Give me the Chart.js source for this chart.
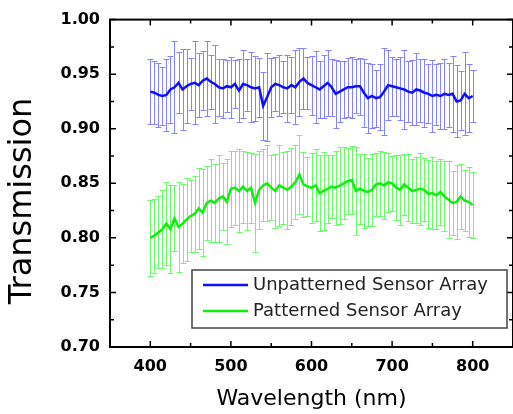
<!DOCTYPE html>
<html>
<head>
<meta charset="utf-8">
<script src="https://cdn.jsdelivr.net/npm/chart.js@4.4.0/dist/chart.umd.min.js"></script>
<style>
  html, body { margin: 0; padding: 0; background: #fff; overflow: hidden; }
  #wrap { width: 516px; height: 414px; }
</style>
</head>
<body>
<div id="wrap"><canvas id="transChart" width="516" height="414"></canvas></div>
<script>
// wavelength in nm
const wavelengths = [
  400, 405, 410, 415, 420, 425, 430, 435, 440, 445,
  450, 455, 460, 465, 470, 475, 480, 485, 490, 495,
  500, 505, 510, 515, 520, 525, 530, 535, 540, 545,
  550, 555, 560, 565, 570, 575, 580, 585, 590, 595,
  600, 605, 610, 615, 620, 625, 630, 635, 640, 645,
  650, 655, 660, 665, 670, 675, 680, 685, 690, 695,
  700, 705, 710, 715, 720, 725, 730, 735, 740, 745,
  750, 755, 760, 765, 770, 775, 780, 785, 790, 795,
  800
];

const unpatterned = [
  0.934, 0.933, 0.931, 0.930, 0.931, 0.936, 0.938, 0.942, 0.936, 0.939,
  0.941, 0.942, 0.940, 0.944, 0.946, 0.943, 0.941, 0.938, 0.937, 0.939,
  0.938, 0.941, 0.935, 0.941, 0.940, 0.938, 0.937, 0.938, 0.921, 0.929,
  0.938, 0.941, 0.940, 0.938, 0.937, 0.940, 0.938, 0.943, 0.946, 0.942,
  0.940, 0.938, 0.936, 0.939, 0.942, 0.938, 0.932, 0.934, 0.936, 0.938,
  0.938, 0.939, 0.939, 0.933, 0.928, 0.930, 0.928, 0.929, 0.934, 0.940,
  0.939, 0.938, 0.937, 0.936, 0.934, 0.933, 0.936, 0.935, 0.933, 0.932,
  0.930, 0.931, 0.930, 0.932, 0.931, 0.932, 0.925, 0.926, 0.932, 0.928,
  0.930
];
const unpatternedErr = [
  0.030, 0.029, 0.029, 0.027, 0.033, 0.031, 0.042, 0.028, 0.037, 0.034,
  0.024, 0.038, 0.029, 0.027, 0.034, 0.025, 0.036, 0.026, 0.027, 0.024,
  0.028, 0.022, 0.029, 0.031, 0.024, 0.032, 0.030, 0.027, 0.031, 0.040,
  0.027, 0.025, 0.028, 0.024, 0.031, 0.026, 0.034, 0.031, 0.028, 0.024,
  0.027, 0.033, 0.026, 0.029, 0.030, 0.026, 0.031, 0.028, 0.026, 0.027,
  0.028, 0.025, 0.026, 0.031, 0.032, 0.029, 0.026, 0.030, 0.040, 0.032,
  0.027, 0.026, 0.029, 0.036, 0.028, 0.030, 0.033, 0.029, 0.031, 0.027,
  0.033, 0.028, 0.030, 0.032, 0.029, 0.035, 0.033, 0.027, 0.038, 0.031,
  0.024
];

const patterned = [
  0.800, 0.802, 0.805, 0.808, 0.813, 0.808, 0.818, 0.810, 0.813, 0.817,
  0.820, 0.822, 0.827, 0.823, 0.832, 0.834, 0.832, 0.836, 0.838, 0.833,
  0.845, 0.846, 0.843, 0.847, 0.843, 0.846, 0.832, 0.844, 0.848, 0.850,
  0.846, 0.843, 0.848, 0.846, 0.844, 0.847, 0.851, 0.858, 0.849, 0.847,
  0.846, 0.848, 0.841, 0.843, 0.845, 0.847, 0.846, 0.848, 0.850, 0.852,
  0.853, 0.843, 0.845, 0.843, 0.842, 0.844, 0.849, 0.850, 0.848, 0.851,
  0.850, 0.846, 0.844, 0.849, 0.846, 0.843, 0.844, 0.845, 0.844, 0.840,
  0.841, 0.839, 0.842, 0.838, 0.835, 0.832, 0.833, 0.838, 0.834, 0.833,
  0.830
];
const patternedErr = [
  0.035, 0.034, 0.033, 0.036, 0.038, 0.040, 0.030, 0.041, 0.036, 0.038,
  0.033, 0.035, 0.037, 0.040, 0.034, 0.038, 0.036, 0.040, 0.031, 0.039,
  0.035, 0.034, 0.038, 0.033, 0.036, 0.032, 0.045, 0.036, 0.033, 0.035,
  0.030, 0.034, 0.037, 0.033, 0.036, 0.035, 0.034, 0.036, 0.030, 0.027,
  0.032, 0.033, 0.035, 0.036, 0.031, 0.029, 0.034, 0.035, 0.033, 0.030,
  0.031, 0.040, 0.032, 0.034, 0.031, 0.033, 0.029, 0.030, 0.031, 0.027,
  0.025, 0.030, 0.032, 0.028, 0.031, 0.029, 0.030, 0.033, 0.029, 0.031,
  0.033, 0.031, 0.030, 0.032, 0.035, 0.029, 0.034, 0.030, 0.028, 0.032,
  0.030
];

const xTicks = [400, 500, 600, 700, 800];
const xMinorTicks = [350, 450, 550, 650, 750, 850];
const yTicks = [0.70, 0.75, 0.80, 0.85, 0.90, 0.95, 1.00];
const yMinorTicks = [0.725, 0.775, 0.825, 0.875, 0.925, 0.975];

const toPoints = (ys) => wavelengths.map((x, i) => ({ x: x, y: ys[i] }));

// vertical error bars with caps, drawn under the lines
const errorBars = {
  id: "errorBars",
  beforeDatasetsDraw(chart) {
    const { ctx, chartArea, scales: { x, y } } = chart;
    ctx.save();
    ctx.beginPath();
    ctx.rect(chartArea.left, chartArea.top, chartArea.width, chartArea.height);
    ctx.clip();
    chart.data.datasets.forEach(ds => {
      ctx.strokeStyle = ds.errColor;
      ctx.lineWidth = 1;
      ds.data.forEach((p, i) => {
        const px = Math.round(x.getPixelForValue(p.x)) + 0.5;
        const top = Math.round(y.getPixelForValue(p.y + ds.err[i])) + 0.5;
        const bot = Math.round(y.getPixelForValue(p.y - ds.err[i])) + 0.5;
        ctx.beginPath();
        ctx.moveTo(px, top); ctx.lineTo(px, bot);
        ctx.moveTo(px - 3, top); ctx.lineTo(px + 3, top);
        ctx.moveTo(px - 3, bot); ctx.lineTo(px + 3, bot);
        ctx.stroke();
      });
    });
    ctx.restore();
  }
};

// closed frame with inward ticks on all four sides, the rotated y title and the boxed legend
const frameAndLegend = {
  id: "frameAndLegend",
  afterDraw(chart) {
    const { ctx, chartArea: a, scales: { x, y } } = chart;
    ctx.save();
    ctx.strokeStyle = "#000";
    ctx.lineWidth = 2;
    ctx.strokeRect(a.left, a.top, a.width, a.height);
    ctx.lineWidth = 1.5;
    ctx.beginPath();
    const tx = (v, len) => {
      const px = x.getPixelForValue(v);
      ctx.moveTo(px, a.bottom); ctx.lineTo(px, a.bottom - len);
      ctx.moveTo(px, a.top); ctx.lineTo(px, a.top + len);
    };
    const ty = (v, len) => {
      const py = y.getPixelForValue(v);
      ctx.moveTo(a.left, py); ctx.lineTo(a.left + len, py);
      ctx.moveTo(a.right, py); ctx.lineTo(a.right - len, py);
    };
    xTicks.forEach(v => tx(v, 6));
    xMinorTicks.forEach(v => tx(v, 4));
    yTicks.forEach(v => ty(v, 6));
    yMinorTicks.forEach(v => ty(v, 4));
    ctx.stroke();

    // y axis title
    ctx.save();
    ctx.translate(23, 201);
    ctx.rotate(-Math.PI / 2);
    ctx.font = "32px 'DejaVu Sans'";
    ctx.fillStyle = "#000";
    ctx.textAlign = "center";
    ctx.textBaseline = "middle";
    ctx.fillText("Transmission", 0, 0);
    ctx.restore();

    // legend box
    const bx = 192, by = 270, bw = 315, bh = 58;
    ctx.fillStyle = "#fff";
    ctx.fillRect(bx, by, bw, bh);
    ctx.strokeStyle = "#444";
    ctx.lineWidth = 1.5;
    ctx.strokeRect(bx, by, bw, bh);
    ctx.font = "18px 'DejaVu Sans'";
    ctx.textBaseline = "middle";
    ctx.textAlign = "left";
    chart.data.datasets.forEach((ds, i) => {
      const ly = by + 15 + i * 26;
      ctx.strokeStyle = ds.borderColor;
      ctx.lineWidth = 2.5;
      ctx.beginPath();
      ctx.moveTo(bx + 11, ly); ctx.lineTo(bx + 56, ly);
      ctx.stroke();
      ctx.fillStyle = "#222";
      ctx.fillText(ds.label, bx + 61, ly);
    });
    ctx.restore();
  }
};

new Chart(document.getElementById("transChart"), {
  type: "line",
  data: {
    datasets: [
      {
        label: "Unpatterned Sensor Array",
        data: toPoints(unpatterned),
        err: unpatternedErr,
        borderColor: "#1010ff",
        errColor: "#8484ff",
        borderWidth: 2.5,
        pointRadius: 0,
        tension: 0
      },
      {
        label: "Patterned Sensor Array",
        data: toPoints(patterned),
        err: patternedErr,
        borderColor: "#10ee10",
        errColor: "#6cfa6c",
        borderWidth: 2.5,
        pointRadius: 0,
        tension: 0
      }
    ]
  },
  options: {
    responsive: false,
    animation: false,
    layout: { padding: { top: 19, right: 3, left: 0, bottom: 0 } },
    plugins: {
      legend: { display: false },
      tooltip: { enabled: false }
    },
    scales: {
      x: {
        type: "linear",
        min: 350,
        max: 850,
        afterBuildTicks: s => { s.ticks = xTicks.map(v => ({ value: v })); },
        afterFit: s => { s.height = 67; },
        grid: { display: false, drawTicks: false },
        border: { display: false },
        ticks: {
          padding: 10,
          color: "#000",
          font: { family: "'DejaVu Sans'", size: 16, weight: "bold" }
        },
        title: {
          display: true,
          text: "Wavelength (nm)",
          color: "#000",
          padding: { top: 0, bottom: 2 },
          font: { family: "'DejaVu Sans'", size: 22 }
        }
      },
      y: {
        min: 0.70,
        max: 1.00,
        afterBuildTicks: s => { s.ticks = yTicks.map(v => ({ value: v })); },
        afterFit: s => { s.width = 110; },
        grid: { display: false, drawTicks: false },
        border: { display: false },
        ticks: {
          padding: 10,
          color: "#000",
          font: { family: "'DejaVu Sans'", size: 16, weight: "bold" },
          callback: v => v.toFixed(2)
        }
      }
    }
  },
  plugins: [errorBars, frameAndLegend]
});
</script>
</body>
</html>
